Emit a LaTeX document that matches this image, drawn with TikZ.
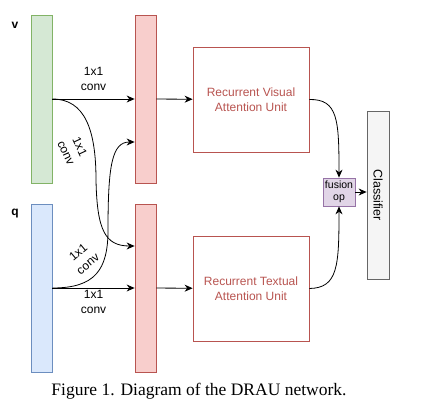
\documentclass[tikz,border=0pt]{standalone}
\usepackage{fontspec}
\setmainfont{Liberation Serif}
\setsansfont{Liberation Sans}
\usetikzlibrary{arrows.meta}
\definecolor{greenfill}{HTML}{D5E8D4}
\definecolor{greenline}{HTML}{82B366}
\definecolor{bluefill}{HTML}{DAE8FC}
\definecolor{blueline}{HTML}{6C8EBF}
\definecolor{redfill}{HTML}{F8CECC}
\definecolor{redline}{HTML}{B85450}
\definecolor{purplefill}{HTML}{E1D5E7}
\definecolor{purpleline}{HTML}{9673A6}
\definecolor{grayfill}{HTML}{F5F5F5}
\definecolor{grayline}{HTML}{666666}

\begin{document}
\begin{tikzpicture}[x=1pt, y=-1pt, font=\sffamily\fontsize{12}{15}\selectfont,
		bar/.style={draw, line width=0.8pt, minimum width=21pt, minimum height=168pt, inner sep=0pt},
		unit/.style={draw=redline, text=redline, line width=0.8pt, minimum width=116pt, minimum height=105pt, align=center},
		arrow/.style={line width=0.8pt, -{Stealth[length=8pt,width=7pt]}},
		conv/.style={align=center, inner sep=1pt}]
	\useasboundingbox (0,0) rectangle (443,412);

	\node[font=\sffamily\bfseries\fontsize{12}{14}\selectfont] at (15,25) (vlabel) {v};
	\node[font=\sffamily\bfseries\fontsize{12}{14}\selectfont] at (15,214) (qlabel) {q};

	\node[bar, fill=greenfill, draw=greenline] at (41.5,99) (vbar) {};
	\node[bar, fill=bluefill, draw=blueline] at (41.5,288) (qbar) {};
	\node[bar, fill=redfill, draw=redline] at (145.5,99) (rtop) {};
	\node[bar, fill=redfill, draw=redline] at (145.5,288) (rbot) {};

	\node[unit] at (251,99.5) (rvau) {Recurrent Visual\\Attention Unit};
	\node[unit] at (251,288.5) (rtau) {Recurrent Textual\\Attention Unit};

	\node[draw=purpleline, fill=purplefill, line width=0.8pt, minimum width=32pt, minimum height=28pt,
		inner sep=0pt, align=center, font=\sffamily\fontsize{10.5}{12}\selectfont] at (339,192) (fusion) {fusion\\op};
	\node[draw=grayline, fill=grayfill, line width=0.8pt, minimum width=22pt, minimum height=168pt,
		inner sep=0pt] at (378,195) (classifier) {};
	\node[rotate=-90, font=\sffamily\fontsize{12.5}{14}\selectfont] at (classifier) (classtext) {Classifier};

	\draw[arrow] (vbar) -- node[conv, above=7pt] {1x1\\conv} (rtop);
	\draw[arrow] (qbar) -- node[conv, below=1pt] {1x1\\conv} (rbot);
	\draw[arrow] (rtop) -- (rvau);
	\draw[arrow] (rbot) -- (rtau);

	\draw[arrow] (vbar.east) .. controls (85,99) and (96,130) .. (96,180)
		.. controls (97,230) and (105,246) .. (rbot.west |- 0,246);
	\draw[arrow] (qbar.east) .. controls (95,288) and (108,270) .. (108,230)
		.. controls (108,165) and (112,142) .. (rtop.west |- 0,142);
	\node[conv, rotate=-65] at (73,150) (convv) {1x1\\conv};
	\node[conv, rotate=40] at (83,258) (convq) {1x1\\conv};

	\draw[arrow] (rvau.east) .. controls (338,99) and (339,120) .. (fusion.north);
	\draw[arrow] (rtau.east) .. controls (338,288) and (339,266) .. (fusion.south);
	\draw[arrow] (fusion.east) -- (classifier.west |- fusion.east);

	\node[font=\rmfamily\fontsize{17.5}{20}\selectfont] at (199,391) (caption) {Figure 1. Diagram of the DRAU network.};
\end{tikzpicture}
\end{document}
